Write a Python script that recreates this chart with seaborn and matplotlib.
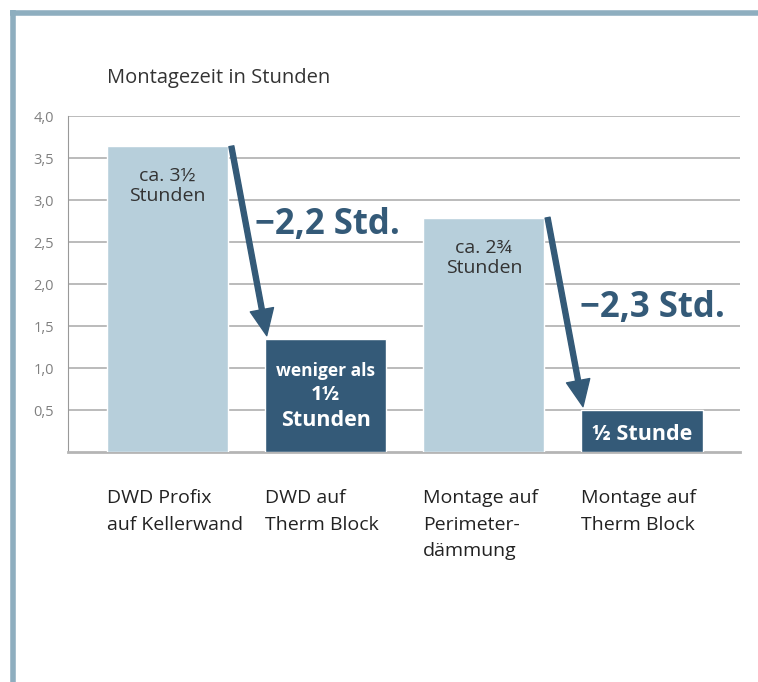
import pandas as pd
import seaborn as sns
import matplotlib.pyplot as plt
from matplotlib.lines import Line2D

# chart data
categories = ["DWD Profix\nauf Kellerwand", "DWD auf\nTherm Block",
              "Montage auf\nPerimeter-\ndämmung", "Montage auf\nTherm Block"]
hours = [3.64, 1.345, 2.79, 0.5]
bar_colors = ["#b7cfdb", "#345a78", "#b7cfdb", "#345a78"]
savings = ["\u22122,2 Std.", "\u22122,3 Std."]
yticks = [0.5, 1.0, 1.5, 2.0, 2.5, 3.0, 3.5, 4.0]
ytick_labels = ["0,5", "1,0", "1,5", "2,0", "2,5", "3,0", "3,5", "4,0"]

df = pd.DataFrame({"cat": categories, "hours": hours})

sns.set_style("white")
plt.rcParams["font.family"] = ["Open Sans", "DejaVu Sans"]

dark = "#345a78"
fig = plt.figure(figsize=(7.58, 6.82), dpi=100)
ax = fig.add_axes([68 / 758, 1 - 452 / 682, 672 / 758, 336 / 682])

bw = 0.766
sns.barplot(data=df, x="cat", y="hours", hue="cat", palette=bar_colors,
            width=bw, legend=False, ax=ax, zorder=3, saturation=1)

ax.set_xlim(-0.63, 3.62)
ax.set_ylim(0, 4.0)
ax.set_yticks(yticks)
ax.set_yticklabels(ytick_labels, color="#808080", fontsize=10.5)
ax.tick_params(axis="y", length=0, pad=10)
ax.set_xticks([])
ax.set_xlabel("")
ax.set_ylabel("")
for y in yticks:
    ax.axhline(y, color="#b5b5b5", lw=1.3, zorder=1)
for s in ["top", "right"]:
    ax.spines[s].set_visible(False)
ax.spines["left"].set_color("#999999")
ax.spines["bottom"].set_color("#b5b5b5")
ax.spines["bottom"].set_linewidth(2)

# category labels, left aligned under each bar
for i, c in enumerate(categories):
    ax.text(i - bw / 2, -0.44, c, ha="left", va="top", fontsize=14,
            color="#222222", linespacing=1.62)

ax.text(-bw / 2, 4.45, "Montagezeit in Stunden", ha="left", va="center",
        fontsize=14.5, color="#333333")

# labels inside the bars
ax.text(0, hours[0] - 0.47, "ca. 3\u00bd\nStunden", ha="center", va="center",
        fontsize=14, color="#333333", linespacing=1.15)
ax.text(2, hours[2] - 0.48, "ca. 2\u00be\nStunden", ha="center", va="center",
        fontsize=14, color="#333333", linespacing=1.15)
ax.text(1, 0.97, "weniger als", ha="center", va="center", fontsize=12.5,
        color="white", fontweight="bold")
ax.text(1, 0.68, "1\u00bd", ha="center", va="center", fontsize=14.5,
        color="white", fontweight="bold")
ax.text(1, 0.38, "Stunden", ha="center", va="center", fontsize=15.5,
        color="white", fontweight="bold")
ax.text(3, 0.21, "\u00bd Stunde", ha="center", va="center", fontsize=15.5,
        color="white", fontweight="bold")

# arrows between the bar pairs, with the saving next to each
label_pos = [(0.55, 2.70), (2.61, 1.71)]
for k, (i, j) in enumerate([(0, 1), (2, 3)]):
    x0 = i + bw / 2 + 0.02
    x1 = j - bw / 2 + 0.01
    ax.annotate("", xy=(x1, hours[j] + 0.04), xytext=(x0, hours[i]),
                arrowprops=dict(width=3.6, headwidth=17, headlength=19,
                                color=dark, shrink=0), zorder=5)
    ax.text(label_pos[k][0], label_pos[k][1], savings[k],
            ha="left", va="center", fontsize=25, fontweight="bold", color=dark)

# frame lines at top and left
fc = "#8eaebf"
fig.add_artist(Line2D([10 / 758, 1], [1 - 12.5 / 682] * 2, color=fc, lw=4,
                      transform=fig.transFigure, solid_capstyle="butt"))
fig.add_artist(Line2D([12.5 / 758] * 2, [0, 1 - 10 / 682], color=fc, lw=4,
                      transform=fig.transFigure, solid_capstyle="butt"))

fig.savefig("out.png", dpi=100)
